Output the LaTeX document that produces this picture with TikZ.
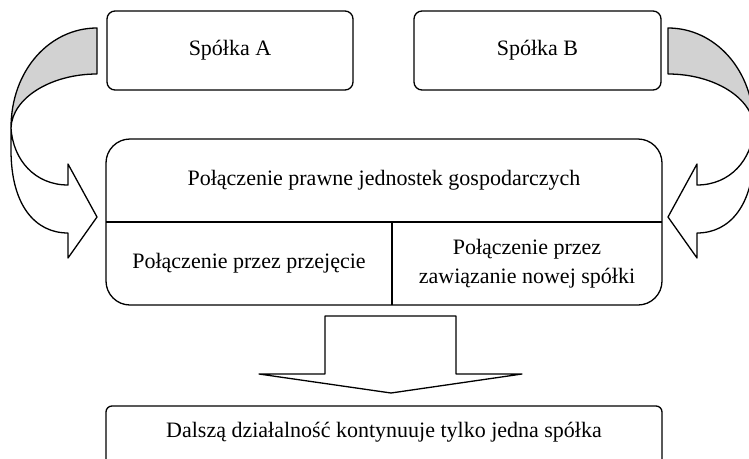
\documentclass[tikz,border=0pt]{standalone}
\usepackage{fontspec}
\setmainfont{Liberation Serif}
\begin{document}
\begin{tikzpicture}[x=1pt,y=-1pt,
  line/.style={draw=black, line width=1.3pt, line join=round},
  box/.style={line, fill=white, inner sep=0pt},
  txt/.style={font=\fontsize{22}{29}\selectfont, align=center, inner sep=0pt}]
\useasboundingbox (0,0) rectangle (749,458);
\clip (0,0) rectangle (749,458);
% top boxes
\node[box, rounded corners=8pt, minimum width=246pt, minimum height=79pt] (A) at (230,50.5) {};
\node[txt] (tA) at (A.center) {Spółka A};
\node[box, rounded corners=8pt, minimum width=247pt, minimum height=79pt] (B) at (537.5,50.5) {};
\node[txt] (tB) at (B.center) {Spółka B};
% main box
\node[box, rounded corners=24pt, minimum width=556pt, minimum height=166pt] (M) at (384,222) {};
\coordinate (hl) at (106,222);
\coordinate (hr) at (662,222);
\coordinate (vt) at (392,222);
\coordinate (vb) at (392,305);
\draw[line] (hl) -- (hr);
\draw[line] (vt) -- (vb);
\node[txt] (top) at (384,180.5) {Połączenie prawne jednostek gospodarczych};
\node[txt] (left) at (249,263.5) {Połączenie przez przejęcie};
\node[txt] (right) at (527,263.5) {Połączenie przez\\zawiązanie nowej spółki};
% bottom box
\node[box, rounded corners=6pt, minimum width=556pt, minimum height=80pt] (D) at (384,446) {};
\node[txt] (tD) at (384,432) {Dalszą działalność kontynuuje tylko jedna spółka};
% big down arrow
\draw[line, fill=white] (325,316) -- (456,316) -- (456,374) -- (522,374) -- (391,393)
  -- (259,374) -- (325,374) -- cycle;
% left curved arrow
\draw[line, fill=gray!35] (97,28) .. controls (50,28) and (11,70) .. (11,128)
  .. controls (12,98) and (51,74) .. (97,74) -- cycle;
\draw[line, fill=white] (11,128) -- (11,150) .. controls (11,205) and (35,233) .. (68,233)
  -- (68,258) -- (97,217) -- (68,164) -- (68,185)
  .. controls (35,185) and (13,160) .. (11,128) -- cycle;
% right curved arrow
\draw[line, fill=gray!35] (668,28) .. controls (715,28) and (754,70) .. (754,128)
  .. controls (753,98) and (714,74) .. (668,74) -- cycle;
\draw[line, fill=white] (754,128) -- (754,150) .. controls (754,205) and (730,233) .. (697,233)
  -- (697,258) -- (668,217) -- (697,164) -- (697,185)
  .. controls (730,185) and (752,160) .. (754,128) -- cycle;
\end{tikzpicture}
\end{document}
